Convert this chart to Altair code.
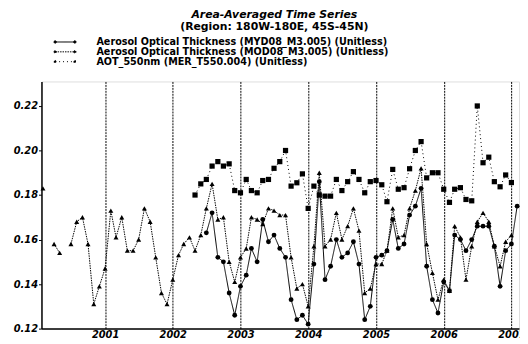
import altair as alt
import pandas as pd

# ---- data (monthly, Jan..Dec) ----
mod08 = {  # Aerosol Optical Thickness (MOD08_M3.005) - triangles, dotted
    2000: [None, 0.183, None, 0.158, 0.154, None, 0.158, 0.168, 0.170, 0.158, 0.131, 0.139],
    2001: [0.147, 0.173, 0.161, 0.170, 0.155, 0.155, 0.160, 0.174, 0.168, 0.152, 0.136, 0.131],
    2002: [0.142, 0.153, 0.158, 0.161, 0.155, 0.162, 0.174, 0.185, 0.169, 0.170, 0.150, 0.141],
    2003: [0.152, 0.156, 0.170, 0.169, 0.167, 0.174, 0.173, 0.171, 0.171, 0.152, 0.138, 0.140],
    2004: [0.130, 0.157, 0.190, 0.157, 0.160, 0.172, 0.160, 0.166, 0.174, 0.164, 0.136, 0.138],
    2005: [0.149, 0.149, 0.155, 0.174, 0.161, 0.162, 0.174, 0.182, 0.192, 0.158, 0.145, 0.133],
    2006: [0.142, 0.137, 0.166, 0.161, 0.142, 0.157, 0.168, 0.172, 0.168, 0.157, 0.148, 0.159],
    2007: [0.162, None],
}
myd08 = {  # Aerosol Optical Thickness (MYD08_M3.005) - circles, solid
    2002: [None, None, None, None, None, None, 0.163, 0.172, 0.152, 0.150, 0.136, 0.126],
    2003: [0.139, 0.144, 0.156, 0.150, 0.169, 0.159, 0.162, 0.156, 0.152, 0.133, 0.124, 0.126],
    2004: [0.122, 0.149, 0.186, 0.142, 0.148, 0.160, 0.152, 0.154, 0.159, 0.149, 0.124, 0.130],
    2005: [0.152, 0.153, 0.155, 0.169, 0.156, 0.158, 0.171, 0.175, 0.183, 0.148, 0.133, 0.127],
    2006: [0.141, 0.137, 0.162, 0.160, 0.155, 0.160, 0.166, 0.166, 0.166, 0.157, 0.139, 0.155],
    2007: [0.158, 0.175],
}
mer = {  # AOT_550nm (MER_T550.004) - squares
    2002: [None, None, None, None, 0.180, 0.185, 0.187, 0.193, 0.195, 0.193, 0.194, 0.182],
    2003: [0.181, 0.187, 0.182, 0.181, 0.1865, 0.187, 0.192, 0.195, 0.200, 0.184, 0.1855, 0.1895],
    2004: [0.174, 0.184, 0.180, 0.1795, 0.1795, 0.187, 0.182, 0.186, 0.1905, 0.187, 0.181, 0.186],
    2005: [0.1865, 0.1846, 0.177, 0.1915, 0.1826, 0.1833, 0.1918, 0.200, 0.204, 0.1877, 0.190, 0.190],
    2006: [0.1826, 0.1767, 0.1826, 0.1833, 0.178, 0.1774, 0.220, 0.1945, 0.197, 0.186, 0.1837, 0.189],
    2007: [0.1856, None],
}

series_names = [
    "Aerosol Optical Thickness (MYD08_M3.005) (Unitless)",
    "Aerosol Optical Thickness (MOD08_M3.005) (Unitless)",
    "AOT_550nm (MER_T550.004) (Unitless)",
]
series_data = [myd08, mod08, mer]
marker_keys = ["MYD08", "MOD08", "MER"]
y_ticks = [0.12, 0.14, 0.16, 0.18, 0.20, 0.22]
year_ticks = [2001, 2002, 2003, 2004, 2005, 2006, 2007]

rows = []
for name, key, d in zip(series_names, marker_keys, series_data):
    for yr, vals in d.items():
        for m, v in enumerate(vals):
            rows.append({"date": f"{yr}-{m + 1:02d}-01", "value": v,
                         "series": name, "marker": key})
df = pd.DataFrame(rows)

FONT = "DejaVu Sans"
legend_path = ("M-2.5,0L2.5,0"
               "M-2.8,0a0.3,0.3 0 1,0 0.6,0a0.3,0.3 0 1,0 -0.6,0"
               "M2.2,0a0.3,0.3 0 1,0 0.6,0a0.3,0.3 0 1,0 -0.6,0")

x_enc = alt.X("date:T",
              scale=alt.Scale(domain=["2000-01-24", "2007-02-11"]),
              axis=alt.Axis(values=[alt.DateTime(year=y, month=1, date=1) for y in year_ticks],
                            format="%Y", title=None, grid=True, gridColor="black",
                            gridDash=[2, 1], gridWidth=1, ticks=False,
                            labelFont=FONT, labelFontSize=10, labelFontWeight="bold",
                            labelFontStyle="italic", labelPadding=1,
                            domainColor="black", domainWidth=1.5))
y_enc = alt.Y("value:Q",
              scale=alt.Scale(domain=[0.12, 0.231], nice=False, zero=False),
              axis=alt.Axis(values=y_ticks, format=".2f", title=None, grid=False,
                            tickColor="black", tickSize=3,
                            labelFont=FONT, labelFontSize=10, labelFontWeight="bold",
                            labelFontStyle="italic", labelPadding=1,
                            domainColor="black", domainWidth=1.5))

base = alt.Chart(df).encode(x=x_enc, y=y_enc)

lines = base.mark_line(color="black", strokeWidth=1).encode(
    strokeDash=alt.StrokeDash(
        "series:N",
        scale=alt.Scale(domain=series_names, range=[[1, 0], [1.5, 1], [1, 3]]),
        legend=alt.Legend(title=None, orient="none", legendX=19, legendY=-45,
                          symbolType=legend_path, symbolSize=64,
                          symbolStrokeColor="black", symbolFillColor="black",
                          symbolStrokeWidth=1, labelFont=FONT, labelFontSize=9.8,
                          labelFontWeight="bold", labelOffset=27, rowPadding=-3.5,
                          labelLimit=400),
    )
)

points = base.mark_point(filled=True, color="black", opacity=1).encode(
    shape=alt.Shape("marker:N",
                    scale=alt.Scale(domain=marker_keys,
                                    range=["circle", "triangle-up", "square"]),
                    legend=None),
    size=alt.Size("marker:N",
                  scale=alt.Scale(domain=marker_keys, range=[24, 28, 22]),
                  legend=None),
)

chart = (
    alt.layer(lines, points)
    .properties(
        width=485,
        height=251,
        padding={"left": 34, "top": 72, "right": 1, "bottom": 12},
        autosize=alt.AutoSizeParams(type="none"),
        title=alt.TitleParams(
            text="Area-Averaged Time Series",
            subtitle="(Region: 180W-180E, 45S-45N)",
            font=FONT, fontSize=11, fontWeight="bold", fontStyle="italic",
            subtitleFont=FONT, subtitleFontSize=11, subtitleFontWeight="bold",
            subtitleColor="black", subtitlePadding=1, color="black",
            anchor="middle", dx=-6, offset=5,
        ),
    )
    .configure_view(stroke="black", strokeWidth=1.5)
    .configure(background="white")
)

chart.save("out.html", embed_options={"renderer": "svg", "actions": False})
